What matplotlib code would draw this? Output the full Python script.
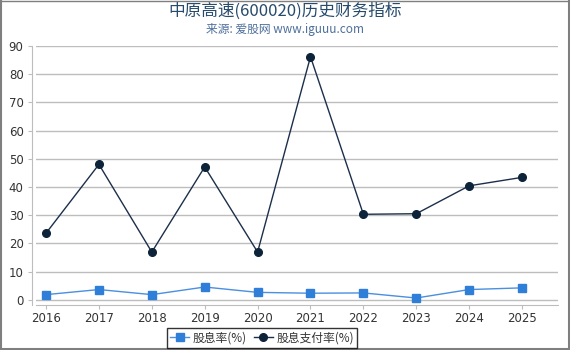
import matplotlib.pyplot as plt
from matplotlib.lines import Line2D

plt.rcParams['font.family'] = ['Noto Sans CJK SC', 'DejaVu Sans']

years = [2016, 2017, 2018, 2019, 2020, 2021, 2022, 2023, 2024, 2025]
dividend_yield = [1.8, 3.6, 1.8, 4.5, 2.6, 2.3, 2.4, 0.6, 3.6, 4.2]
payout_ratio = [23.6, 48.0, 16.9, 47.1, 16.9, 86.2, 30.3, 30.5, 40.4, 43.4]
yticks = [0, 10, 20, 30, 40, 50, 60, 70, 80, 90]

W, H = 570, 350
fig = plt.figure(figsize=(W / 100, H / 100), dpi=100)
fig.patch.set_facecolor('white')

# gray frame: thin on top/left, thicker on right/bottom
frame = '#7f7f7f'
fig.add_artist(Line2D([0, 1], [1 - 0.5 / H] * 2, transform=fig.transFigure, color=frame, linewidth=1.0))
fig.add_artist(Line2D([1 / W] * 2, [0, 1], transform=fig.transFigure, color=frame, linewidth=1.5))
fig.add_artist(Line2D([1 - 1.5 / W] * 2, [0, 1], transform=fig.transFigure, color=frame, linewidth=2.2))
fig.add_artist(Line2D([0, 1], [1.5 / H] * 2, transform=fig.transFigure, color=frame, linewidth=2.2))

ax = fig.add_axes([36 / W, 1 - 305 / H, (558 - 36) / W, (305 - 46) / H])
ax.plot(years, dividend_yield, color='#4a8fe0', linewidth=1.0, marker='s',
        markersize=5.5, markerfacecolor='#2f7ed8', markeredgecolor='#2f7ed8',
        label='股息率(%)', zorder=3)
ax.plot(years, payout_ratio, color='#1c2f4a', linewidth=1.0, marker='o',
        markersize=5.5, markerfacecolor='#0d233a', markeredgecolor='#0d233a',
        label='股息支付率(%)', zorder=3)

ax.set_xlim(2015.81, 2025.68)
ax.set_ylim(-1.88, 90)
ax.set_xticks(years)
ax.set_xticklabels([str(y) for y in years])
ax.set_yticks(yticks)
ax.grid(axis='y', color='#bdbdbd', linewidth=1.0)
ax.set_axisbelow(True)

for s in ['top', 'right']:
    ax.spines[s].set_visible(False)
ax.spines['left'].set_position(('outward', 3))
ax.spines['left'].set_color('#bdbdbd')
ax.spines['bottom'].set_color('#bdbdbd')
ax.tick_params(axis='y', colors='#bdbdbd', labelcolor='#333333', labelsize=8.5,
               length=3, pad=3, labelfontfamily='DejaVu Sans')
ax.tick_params(axis='x', colors='#bdbdbd', labelcolor='#333333', labelsize=8.5,
               length=3, pad=2, labelfontfamily='DejaVu Sans')

fig.text(0.5, 1 - 11 / H, '中原高速(600020)历史财务指标', ha='center', va='center',
         fontsize=12, color='#274b6d')
fig.text(0.5, 1 - 29 / H, '来源: 爱股网 www.iguuu.com', ha='center', va='center',
         fontsize=8.5, color='#4d6f9c')

leg = fig.legend(loc='center', bbox_to_anchor=(262 / W, 1 - 338 / H), ncol=2,
                 frameon=True, fontsize=8.5, handlelength=1.6, handletextpad=0.3,
                 columnspacing=0.6, borderpad=0.3, fancybox=False)
leg.get_frame().set_edgecolor('black')
leg.get_frame().set_linewidth(1.0)
for t in leg.get_texts():
    t.set_color('#333333')

fig.savefig('out.png', dpi=100)
